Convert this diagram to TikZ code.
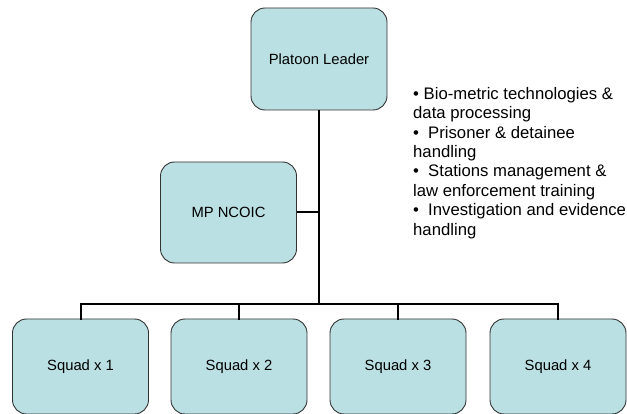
\documentclass[tikz,border=0pt]{standalone}
\usepackage{fontspec}
\setmainfont{Liberation Sans}
\begin{document}
\begin{tikzpicture}[x=1pt,y=-1pt,
  box/.style={draw=black!80, line width=0.9pt, fill=boxfill, rounded corners=14pt,
    minimum width=136pt, inner sep=0pt, font=\fontsize{14.8}{17}\selectfont},
  conn/.style={draw=black, line width=2pt}]
\definecolor{boxfill}{HTML}{BBE0E3}
\useasboundingbox (0,0) rectangle (627,414);
\node[box, minimum height=102pt] (pl) at (319,59) {Platoon Leader};
\node[box, minimum height=101pt] (mp) at (228.5,212.5) {MP NCOIC};
\node[box, minimum height=95pt] (s1) at (80.5,366.5) {Squad x 1};
\node[box, minimum height=95pt] (s2) at (239,366.5) {Squad x 2};
\node[box, minimum height=95pt] (s3) at (398,366.5) {Squad x 3};
\node[box, minimum height=95pt] (s4) at (558,366.5) {Squad x 4};
\coordinate (bar) at (319,304);
\draw[conn] (pl.south) -- (bar);
\draw[conn] (mp.east) -- (mp.east -| pl.south);
\foreach \s in {s1,s2,s3,s4} \draw[conn, line cap=rect] (bar) -| (\s.north);
\node[anchor=north west, align=left, inner sep=0pt,
  font=\fontsize{16.7}{19.4}\selectfont] (bullets) at (413,87.1)
  {• Bio-metric technologies \&\\
   data processing\\
   •\hspace{0.55em}Prisoner \& detainee\\
   handling\\
   •\hspace{0.55em}Stations management \&\\
   law enforcement training\\
   •\hspace{0.55em}Investigation and evidence\\
   handling};
\end{tikzpicture}
\end{document}
